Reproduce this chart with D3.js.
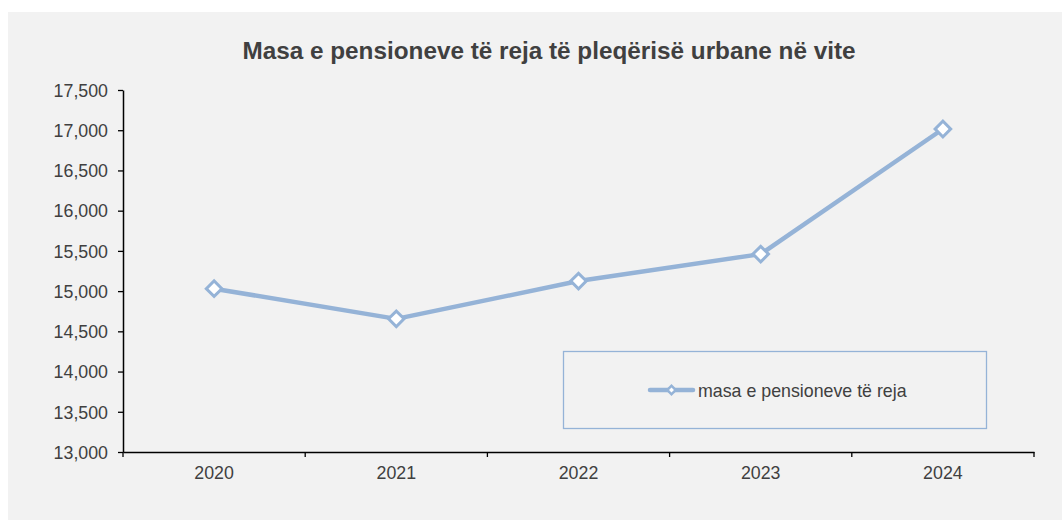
<!DOCTYPE html>
<html><head><meta charset="utf-8">
<script src="https://cdn.jsdelivr.net/npm/d3@7"></script>
<style>body{margin:0;background:#fff}svg{display:block}</style>
</head><body>
<script>
const title = "Masa e pensioneve të reja të pleqërisë urbane në vite";
const years = ["2020","2021","2022","2023","2024"];
const values = [15030, 14655, 15125, 15460, 17015];
const seriesName = "masa e pensioneve të reja";
const yTicks = [13000,13500,14000,14500,15000,15500,16000,16500,17000,17500];

const W = 1062, H = 520;
const svg = d3.select("body").append("svg").attr("width", W).attr("height", H);
svg.append("rect").attr("x",8).attr("y",12).attr("width",W-8).attr("height",H-12).attr("fill","#f2f2f2");

const x = d3.scaleBand().domain(years).range([123,1034]);
const y = d3.scaleLinear().domain([13000,17500]).range([452,90]);
const font = "'Liberation Sans', Arial, sans-serif";
const col = "#95b3d7";
const fs = 17.8;

svg.append("text").attr("x",549).attr("y",59).attr("text-anchor","middle")
  .attr("font-family",font).attr("font-weight","bold").attr("font-size",24.3).attr("fill","#404040").text(title);

const ya = svg.append("g").attr("transform","translate(123,0)")
  .call(d3.axisLeft(y).tickValues(yTicks).tickFormat(d3.format(",")).tickSize(5).tickSizeOuter(0));
ya.select(".domain").attr("stroke","#000").attr("stroke-width",1.5);
ya.selectAll(".tick line").attr("stroke","#000").attr("stroke-width",1.3);
ya.selectAll(".tick text").attr("font-family",font).attr("font-size",fs).attr("fill","#404040").attr("x",-15).attr("dy","0.35em");

const xa = svg.append("g").attr("transform","translate(0,452)")
  .call(d3.axisBottom(x).tickSize(0).tickSizeOuter(0));
xa.select(".domain").attr("stroke","#000").attr("stroke-width",1.5);
xa.selectAll(".tick text").attr("font-family",font).attr("font-size",fs).attr("fill","#404040").attr("y",27).attr("dy",0);
const bounds = years.map(d=>x(d)).concat([x.range()[1]]);
xa.selectAll(".bt").data(bounds).enter().append("line").attr("class","bt")
  .attr("x1",d=>d).attr("x2",d=>d).attr("y1",0).attr("y2",5).attr("stroke","#000").attr("stroke-width",1.3);

const cx = d => x(d) + x.bandwidth()/2;
const line = d3.line().x((d,i)=>cx(years[i])).y(d=>y(d));
svg.append("path").datum(values).attr("d",line).attr("fill","none").attr("stroke",col).attr("stroke-width",4.5).attr("stroke-linejoin","round");
svg.selectAll(".m").data(values).enter().append("rect")
  .attr("x",-5.5).attr("y",-5.5).attr("width",11).attr("height",11)
  .attr("transform",(d,i)=>`translate(${cx(years[i])},${y(d)}) rotate(45)`)
  .attr("fill","#fff").attr("stroke",col).attr("stroke-width",3);

// legend
svg.append("rect").attr("x",563.5).attr("y",351.5).attr("width",423).attr("height",77)
  .attr("fill","none").attr("stroke",col).attr("stroke-width",1.3);
svg.append("line").attr("x1",650).attr("x2",693).attr("y1",390).attr("y2",390).attr("stroke",col).attr("stroke-width",4.5).attr("stroke-linecap","round");
svg.append("rect").attr("x",-3).attr("y",-3).attr("width",6).attr("height",6)
  .attr("transform","translate(671.5,390) rotate(45)").attr("fill","#fff").attr("stroke",col).attr("stroke-width",2.5);
svg.append("text").attr("x",698).attr("y",397).attr("font-family",font).attr("font-size",fs).attr("fill","#404040").text(seriesName);
</script>
</body></html>
